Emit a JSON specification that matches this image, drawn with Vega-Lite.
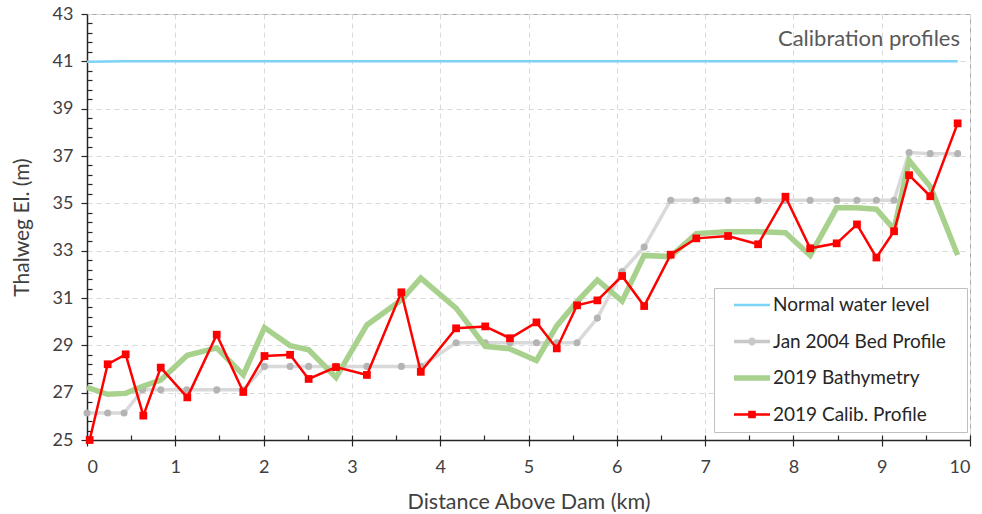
{
  "$schema": "https://vega.github.io/schema/vega-lite/v6.json",
  "width": 883,
  "height": 426,
  "autosize": {"type": "none"},
  "padding": {"left": 87, "top": 14, "right": 12, "bottom": 74},
  "background": "white",
  "config": {
    "view": {"stroke": "#A6A6A6", "strokeWidth": 1},
    "font": "Lato"
  },
  "title": {
    "text": "Calibration profiles",
    "orient": "top",
    "anchor": "end",
    "frame": "group",
    "offset": -46,
    "dx": -10,
    "fontSize": 22,
    "fontWeight": "normal",
    "color": "#595959",
    "font": "Lato"
  },
  "data": {
    "values": [
      {"series": "Normal water level", "x": 0, "y": 40.98},
      {"series": "Normal water level", "x": 0.438, "y": 41},
      {"series": "Normal water level", "x": 9.86, "y": 41},

      {"series": "Jan 2004 Bed Profile", "x": 0, "y": 26.14},
      {"series": "Jan 2004 Bed Profile", "x": 0.234, "y": 26.14},
      {"series": "Jan 2004 Bed Profile", "x": 0.42, "y": 26.14},
      {"series": "Jan 2004 Bed Profile", "x": 0.63, "y": 27.12},
      {"series": "Jan 2004 Bed Profile", "x": 0.835, "y": 27.12},
      {"series": "Jan 2004 Bed Profile", "x": 1.13, "y": 27.12},
      {"series": "Jan 2004 Bed Profile", "x": 1.47, "y": 27.12},
      {"series": "Jan 2004 Bed Profile", "x": 1.77, "y": 27.12},
      {"series": "Jan 2004 Bed Profile", "x": 2.01, "y": 28.11},
      {"series": "Jan 2004 Bed Profile", "x": 2.3, "y": 28.11},
      {"series": "Jan 2004 Bed Profile", "x": 2.51, "y": 28.11},
      {"series": "Jan 2004 Bed Profile", "x": 2.82, "y": 28.11},
      {"series": "Jan 2004 Bed Profile", "x": 3.17, "y": 28.11},
      {"series": "Jan 2004 Bed Profile", "x": 3.56, "y": 28.11},
      {"series": "Jan 2004 Bed Profile", "x": 3.78, "y": 28.11},
      {"series": "Jan 2004 Bed Profile", "x": 4.18, "y": 29.11},
      {"series": "Jan 2004 Bed Profile", "x": 4.51, "y": 29.11},
      {"series": "Jan 2004 Bed Profile", "x": 4.79, "y": 29.11},
      {"series": "Jan 2004 Bed Profile", "x": 5.09, "y": 29.11},
      {"series": "Jan 2004 Bed Profile", "x": 5.32, "y": 29.11},
      {"series": "Jan 2004 Bed Profile", "x": 5.55, "y": 29.11},
      {"series": "Jan 2004 Bed Profile", "x": 5.78, "y": 30.15},
      {"series": "Jan 2004 Bed Profile", "x": 6.06, "y": 32.12},
      {"series": "Jan 2004 Bed Profile", "x": 6.31, "y": 33.15},
      {"series": "Jan 2004 Bed Profile", "x": 6.61, "y": 35.13},
      {"series": "Jan 2004 Bed Profile", "x": 6.9, "y": 35.13},
      {"series": "Jan 2004 Bed Profile", "x": 7.26, "y": 35.13},
      {"series": "Jan 2004 Bed Profile", "x": 7.6, "y": 35.13},
      {"series": "Jan 2004 Bed Profile", "x": 7.91, "y": 35.13},
      {"series": "Jan 2004 Bed Profile", "x": 8.19, "y": 35.13},
      {"series": "Jan 2004 Bed Profile", "x": 8.49, "y": 35.13},
      {"series": "Jan 2004 Bed Profile", "x": 8.72, "y": 35.13},
      {"series": "Jan 2004 Bed Profile", "x": 8.94, "y": 35.13},
      {"series": "Jan 2004 Bed Profile", "x": 9.14, "y": 35.13},
      {"series": "Jan 2004 Bed Profile", "x": 9.31, "y": 37.15},
      {"series": "Jan 2004 Bed Profile", "x": 9.55, "y": 37.1},
      {"series": "Jan 2004 Bed Profile", "x": 9.86, "y": 37.1},

      {"series": "2019 Bathymetry", "x": 0, "y": 27.22},
      {"series": "2019 Bathymetry", "x": 0.234, "y": 26.93},
      {"series": "2019 Bathymetry", "x": 0.438, "y": 26.97},
      {"series": "2019 Bathymetry", "x": 0.638, "y": 27.28},
      {"series": "2019 Bathymetry", "x": 0.835, "y": 27.53},
      {"series": "2019 Bathymetry", "x": 1.136, "y": 28.58},
      {"series": "2019 Bathymetry", "x": 1.469, "y": 28.89},
      {"series": "2019 Bathymetry", "x": 1.77, "y": 27.75},
      {"series": "2019 Bathymetry", "x": 2.01, "y": 29.75},
      {"series": "2019 Bathymetry", "x": 2.3, "y": 28.99},
      {"series": "2019 Bathymetry", "x": 2.51, "y": 28.81},
      {"series": "2019 Bathymetry", "x": 2.82, "y": 27.64},
      {"series": "2019 Bathymetry", "x": 3.17, "y": 29.86},
      {"series": "2019 Bathymetry", "x": 3.56, "y": 30.92},
      {"series": "2019 Bathymetry", "x": 3.78, "y": 31.84},
      {"series": "2019 Bathymetry", "x": 4.18, "y": 30.57},
      {"series": "2019 Bathymetry", "x": 4.51, "y": 28.96},
      {"series": "2019 Bathymetry", "x": 4.79, "y": 28.85},
      {"series": "2019 Bathymetry", "x": 5.09, "y": 28.36},
      {"series": "2019 Bathymetry", "x": 5.32, "y": 29.82},
      {"series": "2019 Bathymetry", "x": 5.55, "y": 30.85},
      {"series": "2019 Bathymetry", "x": 5.78, "y": 31.76},
      {"series": "2019 Bathymetry", "x": 6.06, "y": 30.87},
      {"series": "2019 Bathymetry", "x": 6.31, "y": 32.8},
      {"series": "2019 Bathymetry", "x": 6.61, "y": 32.75},
      {"series": "2019 Bathymetry", "x": 6.9, "y": 33.72},
      {"series": "2019 Bathymetry", "x": 7.26, "y": 33.8},
      {"series": "2019 Bathymetry", "x": 7.6, "y": 33.8},
      {"series": "2019 Bathymetry", "x": 7.91, "y": 33.76},
      {"series": "2019 Bathymetry", "x": 8.19, "y": 32.8},
      {"series": "2019 Bathymetry", "x": 8.49, "y": 34.81},
      {"series": "2019 Bathymetry", "x": 8.72, "y": 34.81},
      {"series": "2019 Bathymetry", "x": 8.94, "y": 34.75},
      {"series": "2019 Bathymetry", "x": 9.14, "y": 33.9},
      {"series": "2019 Bathymetry", "x": 9.31, "y": 36.81},
      {"series": "2019 Bathymetry", "x": 9.55, "y": 35.71},
      {"series": "2019 Bathymetry", "x": 9.86, "y": 32.82},

      {"series": "2019 Calib. Profile", "x": 0.03, "y": 25.0},
      {"series": "2019 Calib. Profile", "x": 0.234, "y": 28.2},
      {"series": "2019 Calib. Profile", "x": 0.438, "y": 28.62},
      {"series": "2019 Calib. Profile", "x": 0.638, "y": 26.03},
      {"series": "2019 Calib. Profile", "x": 0.835, "y": 28.06},
      {"series": "2019 Calib. Profile", "x": 1.136, "y": 26.8},
      {"series": "2019 Calib. Profile", "x": 1.469, "y": 29.45},
      {"series": "2019 Calib. Profile", "x": 1.77, "y": 27.03},
      {"series": "2019 Calib. Profile", "x": 2.01, "y": 28.55},
      {"series": "2019 Calib. Profile", "x": 2.3, "y": 28.6},
      {"series": "2019 Calib. Profile", "x": 2.51, "y": 27.58},
      {"series": "2019 Calib. Profile", "x": 2.82, "y": 28.08},
      {"series": "2019 Calib. Profile", "x": 3.17, "y": 27.75},
      {"series": "2019 Calib. Profile", "x": 3.56, "y": 31.24},
      {"series": "2019 Calib. Profile", "x": 3.78, "y": 27.88},
      {"series": "2019 Calib. Profile", "x": 4.18, "y": 29.72},
      {"series": "2019 Calib. Profile", "x": 4.51, "y": 29.8},
      {"series": "2019 Calib. Profile", "x": 4.79, "y": 29.3},
      {"series": "2019 Calib. Profile", "x": 5.09, "y": 29.97},
      {"series": "2019 Calib. Profile", "x": 5.32, "y": 28.87},
      {"series": "2019 Calib. Profile", "x": 5.55, "y": 30.69},
      {"series": "2019 Calib. Profile", "x": 5.78, "y": 30.9},
      {"series": "2019 Calib. Profile", "x": 6.06, "y": 31.93},
      {"series": "2019 Calib. Profile", "x": 6.31, "y": 30.66},
      {"series": "2019 Calib. Profile", "x": 6.61, "y": 32.83},
      {"series": "2019 Calib. Profile", "x": 6.9, "y": 33.52},
      {"series": "2019 Calib. Profile", "x": 7.26, "y": 33.62},
      {"series": "2019 Calib. Profile", "x": 7.6, "y": 33.27},
      {"series": "2019 Calib. Profile", "x": 7.91, "y": 35.28},
      {"series": "2019 Calib. Profile", "x": 8.19, "y": 33.1},
      {"series": "2019 Calib. Profile", "x": 8.49, "y": 33.31},
      {"series": "2019 Calib. Profile", "x": 8.72, "y": 34.11},
      {"series": "2019 Calib. Profile", "x": 8.94, "y": 32.71},
      {"series": "2019 Calib. Profile", "x": 9.14, "y": 33.82},
      {"series": "2019 Calib. Profile", "x": 9.31, "y": 36.19},
      {"series": "2019 Calib. Profile", "x": 9.55, "y": 35.3},
      {"series": "2019 Calib. Profile", "x": 9.86, "y": 38.38}
    ]
  },
  "resolve": {"axis": {"x": "independent", "y": "independent"}},
  "layer": [
    {
      "transform": [{"filter": "datum.series === 'Normal water level'"}],
      "mark": {"type": "line", "color": "#7DD3F5", "strokeWidth": 2.5},
      "encoding": {
        "x": {
          "field": "x", "type": "quantitative",
          "scale": {"domain": [0, 10], "nice": false, "zero": false},
          "axis": {
            "orient": "bottom",
            "values": [0, 1, 2, 3, 4, 5, 6, 7, 8, 9, 10],
            "format": "d",
            "labelFontSize": 18, "labelColor": "#404040", "labelFont": "Lato",
            "labelPadding": 12,
            "tickSize": 6, "tickColor": "#262626", "tickWidth": 1.2,
            "domainColor": "#262626", "domainWidth": 1.5,
            "grid": true, "gridDash": [5, 4], "gridColor": "#D9D9D9", "gridWidth": 1,
            "title": "Distance Above Dam (km)",
            "titleFontSize": 21.5, "titleFontWeight": "normal", "titleColor": "#404040", "titleFont": "Lato",
            "titlePadding": 15
          }
        },
        "y": {
          "field": "y", "type": "quantitative",
          "scale": {"domain": [25, 43], "nice": false, "zero": false},
          "axis": {
            "orient": "left",
            "values": [25, 27, 29, 31, 33, 35, 37, 39, 41, 43],
            "format": "d",
            "labelFontSize": 18, "labelColor": "#404040", "labelFont": "Lato",
            "labelPadding": 8,
            "tickSize": 6, "tickColor": "#262626", "tickWidth": 1.2,
            "domainColor": "#262626", "domainWidth": 1.5,
            "grid": true, "gridDash": [5, 4], "gridColor": "#D9D9D9", "gridWidth": 1,
            "title": "Thalweg El. (m)",
            "titleFontSize": 21, "titleFontWeight": "normal", "titleColor": "#404040", "titleFont": "Lato",
            "titlePadding": 20
          }
        }
      }
    },
    {
      "transform": [{"filter": "datum.series === 'Jan 2004 Bed Profile'"}],
      "mark": {"type": "line", "color": "#D9D9D9", "strokeWidth": 3.5,
               "point": {"filled": true, "color": "#B4B4B4", "size": 50, "opacity": 1}},
      "encoding": {
        "x": {"field": "x", "type": "quantitative", "axis": null},
        "y": {"field": "y", "type": "quantitative", "axis": null}
      }
    },
    {
      "transform": [{"filter": "datum.series === '2019 Bathymetry'"}],
      "mark": {"type": "line", "color": "#A9D18E", "strokeWidth": 5.5},
      "encoding": {
        "x": {"field": "x", "type": "quantitative", "axis": null},
        "y": {"field": "y", "type": "quantitative", "axis": null}
      }
    },
    {
      "transform": [{"filter": "datum.series === '2019 Calib. Profile'"}],
      "mark": {"type": "line", "color": "#FF0000", "strokeWidth": 2.5,
               "point": {"filled": true, "shape": "square", "color": "#FF0000", "size": 60, "opacity": 1}},
      "encoding": {
        "x": {"field": "x", "type": "quantitative", "axis": null},
        "y": {"field": "y", "type": "quantitative", "axis": null}
      }
    },
    {
      "mark": {"type": "point", "filled": true, "opacity": 0},
      "encoding": {
        "x": {
          "field": "x", "type": "quantitative",
          "axis": {
            "orient": "bottom",
            "values": [0, 0.5, 1, 1.5, 2, 2.5, 3, 3.5, 4, 4.5, 5, 5.5, 6, 6.5, 7, 7.5, 8, 8.5, 9, 9.5, 10],
            "labels": false, "domain": false, "grid": false,
            "tickSize": -5, "tickColor": "#262626", "tickWidth": 1.2, "title": null
          }
        },
        "y": {
          "field": "y", "type": "quantitative",
          "axis": {
            "orient": "left",
            "values": [25.4, 25.8, 26.2, 26.6, 27.4, 27.8, 28.2, 28.6, 29.4, 29.8, 30.2, 30.6, 31.4, 31.8, 32.2, 32.6, 33.4, 33.8, 34.2, 34.6, 35.4, 35.8, 36.2, 36.6, 37.4, 37.8, 38.2, 38.6, 39.4, 39.8, 40.2, 40.6, 41.4, 41.8, 42.2, 42.6],
            "labels": false, "domain": false, "grid": false,
            "tickSize": -5, "tickColor": "#262626", "tickWidth": 1.2, "title": null
          }
        },
        "color": {
          "field": "series", "type": "nominal",
          "scale": {
            "domain": ["Normal water level", "Jan 2004 Bed Profile", "2019 Bathymetry", "2019 Calib. Profile"],
            "range": ["#7DD3F5", "#C8C8C8", "#A9D18E", "#FF0000"]
          },
          "legend": {
            "orient": "none", "legendX": 627, "legendY": 274,
            "title": "\u00a0\u00a0", "titleOrient": "right", "titleFontSize": 12, "titlePadding": 14,
            "strokeColor": "#BFBFBF", "fillColor": "white",
            "padding": 7,
            "symbolSize": 400, "symbolOffset": 21, "symbolOpacity": 1, "symbolStrokeWidth": 0,
            "labelOffset": 11, "rowPadding": 16.5, "labelLimit": 300,
            "labelFontSize": 19, "labelFont": "Lato", "labelColor": "#262626",
            "encode": {"symbols": {"update": {"fill": {"scale": "color", "field": "value"}, "opacity": {"value": 1}, "strokeWidth": {"value": 0}}}}
          }
        },
        "shape": {
          "field": "series", "type": "nominal",
          "scale": {
            "domain": ["Normal water level", "Jan 2004 Bed Profile", "2019 Bathymetry", "2019 Calib. Profile"],
            "range": [
              "M-1.8,-0.13H1.8V0.13H-1.8Z",
              "M-1.8,-0.17H1.8V0.17H-1.8Z M0.4,0A0.4,0.4,0,1,1,-0.4,0A0.4,0.4,0,1,1,0.4,0Z",
              "M-1.8,-0.27H1.8V0.27H-1.8Z",
              "M-1.8,-0.13H1.8V0.13H-1.8Z M-0.38,-0.38H0.38V0.38H-0.38Z"
            ]
          },
          "legend": {
            "orient": "none", "legendX": 627, "legendY": 274,
            "title": "\u00a0\u00a0", "titleOrient": "right", "titleFontSize": 12, "titlePadding": 14,
            "strokeColor": "#BFBFBF", "fillColor": "white",
            "padding": 7,
            "symbolSize": 400, "symbolOffset": 21, "symbolOpacity": 1, "symbolStrokeWidth": 0,
            "labelOffset": 11, "rowPadding": 16.5, "labelLimit": 300,
            "labelFontSize": 19, "labelFont": "Lato", "labelColor": "#262626",
            "encode": {"symbols": {"update": {"fill": {"scale": "color", "field": "value"}, "opacity": {"value": 1}, "strokeWidth": {"value": 0}}}}
          }
        }
      }
    }
  ]
}
